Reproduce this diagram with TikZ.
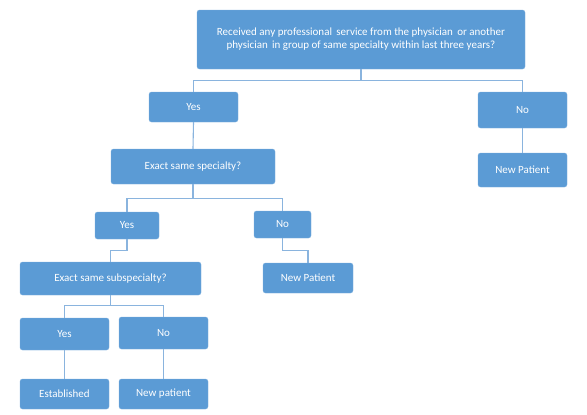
\documentclass[tikz,border=0pt]{standalone}
\usepackage{fontspec}
\setmainfont{Carlito}
\usepackage{tikz}
\usetikzlibrary{positioning,calc}
\definecolor{boxblue}{HTML}{5B9BD5}
\definecolor{boxline}{HTML}{7EB0DE}
\definecolor{linkblue}{HTML}{8AB4DE}
\tikzset{box/.style={draw=boxline,fill=boxblue,rounded corners=2.5pt,text=white,align=center,inner sep=0pt,font=\fontsize{11}{13}\selectfont}}
\tikzset{link/.style={draw=linkblue,line width=1.1pt}}

\begin{document}
\begin{tikzpicture}[x=1pt, y=-1pt]
    \useasboundingbox (0,0) rectangle (587,415);
    \node[box,minimum width=328pt,minimum height=59pt] (top) at (361,39.5) {Received any professional\, service from the physician\, or another\\physician\, in group of same specialty within last three years?};
    \node[box,minimum width=89pt,minimum height=30pt] (yesA) at (193.5,107) {Yes};
    \node[box,minimum width=89pt,minimum height=36pt] (noA) at (522.5,110) {No};
    \node[box,minimum width=89pt,minimum height=34pt] (newA) at (522.5,170) {New Patient};
    \node[box,minimum width=164pt,minimum height=35pt] (spec) at (193,166.5) {Exact same specialty?};
    \node[box,minimum width=64pt,minimum height=27pt] (yesB) at (127,225.5) {Yes};
    \node[box,minimum width=57pt,minimum height=27pt] (noB) at (282.5,224.5) {No};
    \node[box,minimum width=90pt,minimum height=30pt] (newB) at (308,278) {New Patient};
    \node[box,minimum width=181pt,minimum height=33pt] (subspec) at (110.5,278.5) {Exact same subspecialty?};
    \node[box,minimum width=89pt,minimum height=32pt] (yesC) at (64.5,334) {Yes};
    \node[box,minimum width=89pt,minimum height=32pt] (noC) at (163.5,333) {No};
    \node[box,minimum width=89pt,minimum height=30pt] (estab) at (64.5,394) {Established};
    \node[box,minimum width=89pt,minimum height=30pt] (newC) at (163.5,394) {New patient};

    % first question
    \draw[link] (top.south) -- ++(0,11) coordinate (j1) -| (yesA.north);
    \draw[link] (j1) -| (noA.north);
    \draw[link] (noA.south) -- (newA.north);
    \draw[link] (yesA.south) -- (spec.north);
    % specialty
    \draw[link] (spec.south) -- ++(0,14) coordinate (j2) -| (yesB.north);
    \draw[link] (j2) -| (noB.north);
    \draw[link] (yesB.south) -- ++(0,11) -| (subspec.north);
    \draw[link] (noB.south) -- ++(0,12) -| (newB.north);
    % subspecialty
    \draw[link] (subspec.south) -- ++(0,10) coordinate (j3) -| (yesC.north);
    \draw[link] (j3) -| (noC.north);
    \draw[link] (yesC.south) -- (estab.north);
    \draw[link] (noC.south) -- (newC.north);
\end{tikzpicture}
\end{document}
